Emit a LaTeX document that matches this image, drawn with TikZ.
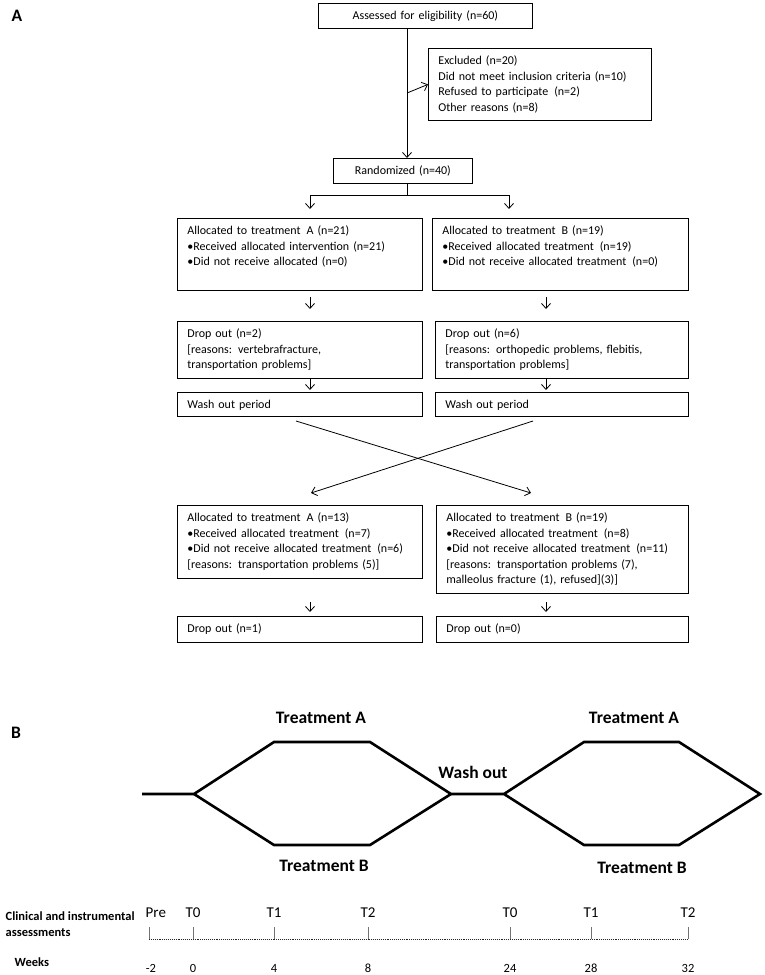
\documentclass[tikz,border=0pt]{standalone}
\usepackage{amsmath, amssymb}
\usepackage{xcolor}
\usepackage{fontspec}
\setmainfont{Carlito}
\usepackage{tikz}
\usetikzlibrary{arrows.meta}

\newcommand{\flowfont}{\fontsize{12}{15.5}\selectfont}
\newcommand{\hexfont}{\fontsize{17.5}{20}\selectfont\bfseries}
\newcommand{\timefont}{\fontsize{15}{18}\selectfont}
\newcommand{\weekfont}{\fontsize{12.5}{16}\selectfont}

\begin{document}
\begin{tikzpicture}[x=1pt,y=-1pt,line width=0.8pt,>={Straight Barb[length=5pt,width=9pt]}]
\useasboundingbox (0,0) rectangle (765,975);

\node[font=\hexfont] (panel a) at (17,16) {A};

% flow chart boxes
\begin{scope}[every node/.style={draw,anchor=north west,align=left,font=\flowfont,inner xsep=10pt,inner ysep=4pt,text height=12.5pt}]
\node[align=center,text width=194pt,text depth=4.5pt] (assessed) at (318,3) {Assessed for eligibility (n=60)};
\node[text width=203pt,text depth=51.5pt] (excluded) at (428,48) {Excluded (n=20)\\Did not meet inclusion criteria (n=10)\\Refused to participate \,(n=2)\\Other reasons (n=8)};
\node[align=center,text width=119pt,text depth=4.5pt] (randomized) at (333,158) {Randomized (n=40)};
\node[text width=225pt,text depth=51.5pt] (alloc a1) at (177,218) {Allocated to treatment \,A (n=21)\\\textbullet Received allocated intervention (n=21)\\\textbullet Did not receive allocated (n=0)};
\node[text width=236pt,text depth=51.5pt] (alloc b1) at (432,218) {Allocated to treatment \,B (n=19)\\\textbullet Received allocated treatment \,(n=19)\\\textbullet Did not receive allocated treatment \,(n=0)};
\node[text width=225pt,text depth=36.5pt] (drop a1) at (177,321) {Drop out (n=2)\\{[}reasons: vertebrafracture,\\transportation problems]};
\node[text width=233pt,text depth=36.5pt] (drop b1) at (435,321) {Drop out (n=6)\\{[}reasons: orthopedic problems, flebitis,\\transportation problems]};
\node[text width=225pt,text depth=3.5pt] (wash a) at (177,392) {Wash out period};
\node[text width=233pt,text depth=3.5pt] (wash b) at (435,392) {Wash out period};
\node[text width=225pt,text depth=52.5pt] (alloc a2) at (177,505) {Allocated to treatment \,A (n=13)\\\textbullet Received allocated treatment \,(n=7)\\\textbullet Did not receive allocated treatment \,(n=6)\\{[}reasons: transportation problems (5)]};
\node[text width=232pt,text depth=67.5pt] (alloc b2) at (436,505) {Allocated to treatment \,B (n=19)\\\textbullet Received allocated treatment \,(n=8)\\\textbullet Did not receive allocated treatment \,(n=11)\\{[}reasons: transportation problems (7),\\malleolus fracture (1), refused](3)]};
\node[text width=225pt,text depth=5.5pt] (drop a2) at (177,616) {Drop out (n=1)};
\node[text width=232pt,text depth=5.5pt] (drop b2) at (436,616) {Drop out (n=0)};
\end{scope}

% free ends of the arrows
\coordinate (spine) at (407,0);
\coordinate (excl fork) at (407,93);
\coordinate (split) at (407,195);
\coordinate (split a) at (310,195);
\coordinate (split b) at (509,195);
\coordinate (tip a1) at (310,209);
\coordinate (tip b1) at (509,209);
\coordinate (gap a1) at (310,297);
\coordinate (gap b1) at (546,297);
\coordinate (tip a2) at (310,309);
\coordinate (tip b2) at (546,309);
\coordinate (tip a3) at (310,390);
\coordinate (tip b3) at (546,390);
\coordinate (cross a) at (296,421);
\coordinate (cross b) at (533,421);
\coordinate (cross a end) at (531,493);
\coordinate (cross b end) at (311,493);
\coordinate (gap a2) at (310,602);
\coordinate (gap b2) at (546,602);
\coordinate (tip a4) at (310,612);
\coordinate (tip b4) at (546,612);

\begin{scope}
\path [->] (assessed.south -| spine) edge (randomized.north -| spine);
\path [->] (excl fork) edge (excluded.west);
\draw (randomized.south -| spine) -- (split);
\draw (split a) -- (split b);
\path [->] (split a) edge (tip a1);
\path [->] (split b) edge (tip b1);
\path [->] (gap a1) edge (tip a2);
\path [->] (gap b1) edge (tip b2);
\path [->] (drop a1.south -| tip a3) edge (tip a3);
\path [->] (drop b1.south -| tip b3) edge (tip b3);
\path [->] (cross a) edge (cross a end);
\path [->] (cross b) edge (cross b end);
\path [->] (gap a2) edge (tip a4);
\path [->] (gap b2) edge (tip b4);
\end{scope}

% panel B: crossover scheme
\node[font=\hexfont] (panel b) at (16,733) {B};
\draw[line width=2.6pt] (142,794) -- (194,794) -- (274,742) -- (370,742) -- (451,794) -- (504,794) -- (584,742) -- (679,742) -- (760,794) -- (679,845) -- (584,845) -- (504,794);
\draw[line width=2.6pt] (194,794) -- (274,845) -- (370,845) -- (451,794);
\node[font=\hexfont] (treat a1) at (321,718) {Treatment A};
\node[font=\hexfont] (treat b1) at (324,866) {Treatment B};
\node[font=\hexfont] (wash out) at (473,772) {Wash out};
\node[font=\hexfont] (treat a2) at (634,718) {Treatment A};
\node[font=\hexfont] (treat b2) at (642,868) {Treatment B};

% time line
\node[font=\weekfont\bfseries,align=left,anchor=west] (clinical) at (2,924) {Clinical and instrumental\\assessments};
\node[font=\weekfont\bfseries,anchor=west] (weeks) at (11,962) {Weeks};
\draw[densely dotted,black!85,line width=0.9pt] (149,939) -- (688,939);
\draw[black!55,line width=0.6pt] (149,927) -- (149,939);
\node[font=\timefont,anchor=west] (pre) at (142,913) {Pre};
\node[font=\weekfont] (week m2) at (151,968) {-2};
\foreach \x/\t/\w in {193/T0/0, 274/T1/4, 368/T2/8, 510/T0/24, 591/T1/28, 688/T2/32} {
  \draw[black!55,line width=0.6pt] (\x,927) -- (\x,939);
  \node[font=\timefont] (mark \w) at (\x,913) {\t};
  \node[font=\weekfont] (week \w) at (\x,968) {\w};
}

\end{tikzpicture}
\end{document}
